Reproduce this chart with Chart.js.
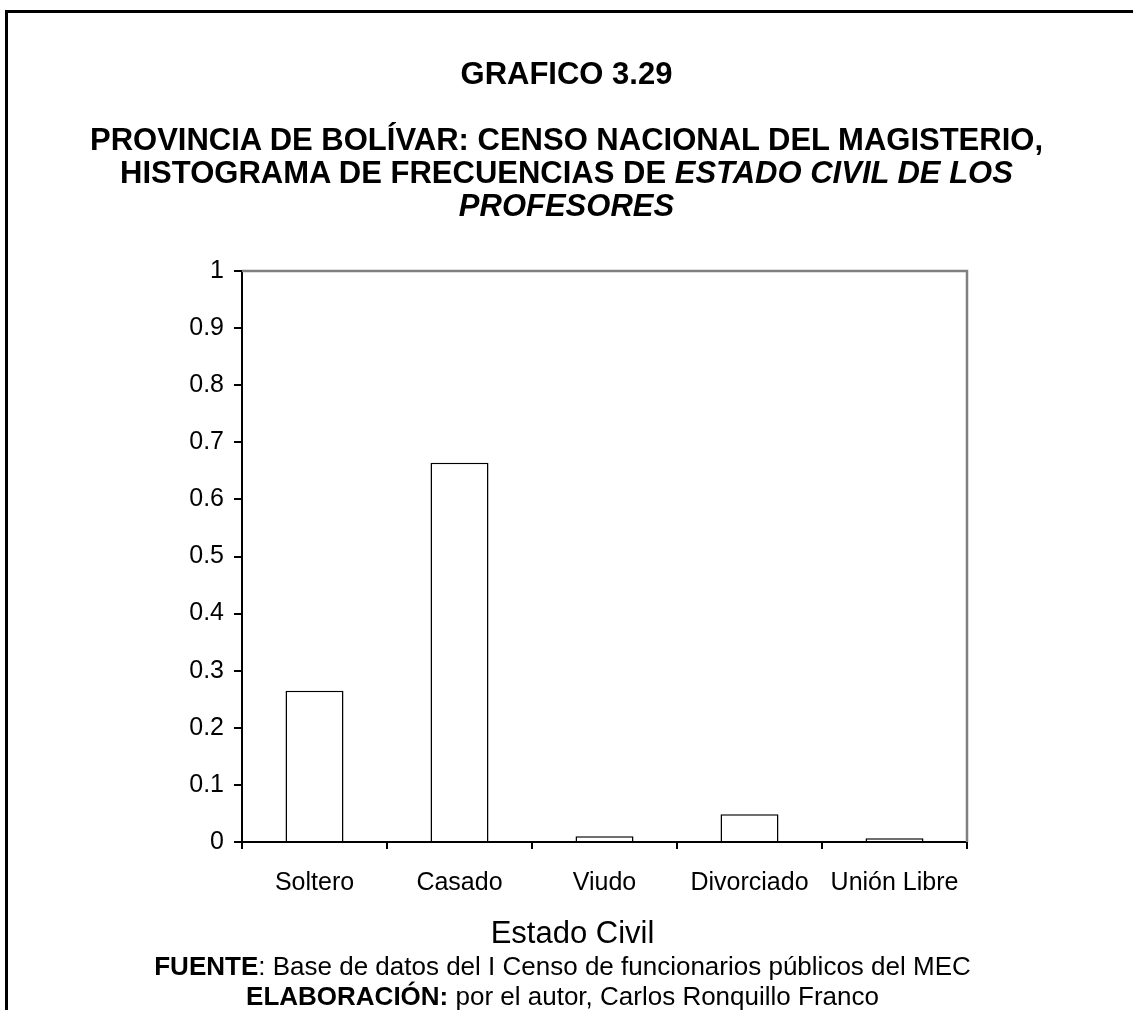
<!DOCTYPE html>
<html>
<head>
<meta charset="utf-8">
<script src="https://cdn.jsdelivr.net/npm/chart.js@4.4.0/dist/chart.umd.min.js"></script>
<style>
  html, body { margin: 0; padding: 0; background: #fff; }
  body { width: 1133px; height: 1010px; position: relative; overflow: hidden;
         font-family: "Liberation Sans", Arial, sans-serif; color: #000; }
  #marco { position: absolute; left: 5px; top: 10px; width: 1200px; height: 1100px;
           border-top: 3px solid #000; border-left: 3px solid #000; }
  #grafico { position: absolute; left: 0; top: 0; }
  .linea { position: absolute; left: 0; width: 1133px; text-align: center; white-space: nowrap; }
  .tit { font-size: 31px; font-weight: bold; line-height: 35px; }
  .pie { font-size: 26px; line-height: 30px; left: -4px; }
  #ejex { font-size: 31px; line-height: 36px; left: 6px; width: 1133px; }
</style>
</head>
<body>
<div id="marco"></div>
<canvas id="grafico" width="1133" height="1010"></canvas>

<div class="linea tit" style="top:56px">GRAFICO 3.29</div>
<div class="linea tit" style="top:122px">PROVINCIA DE BOLÍVAR: CENSO NACIONAL DEL MAGISTERIO,</div>
<div class="linea tit" style="top:155px">HISTOGRAMA DE FRECUENCIAS DE <i>ESTADO CIVIL DE LOS</i></div>
<div class="linea tit" style="top:188px"><i>PROFESORES</i></div>

<div class="linea" id="ejex" style="top:915px"></div>

<div class="linea pie" style="top:951px"><b>FUENTE</b>: Base de datos del I Censo de funcionarios públicos del MEC</div>
<div class="linea pie" style="top:981px"><b>ELABORACIÓN:</b> por el autor, Carlos Ronquillo Franco</div>

<script>
// datos
const categorias = ['Soltero', 'Casado', 'Viudo', 'Divorciado', 'Unión Libre'];
const frecuencias = [0.265, 0.664, 0.010, 0.0485, 0.0065];
const ejeY = { min: 0, max: 1, paso: 0.1 };
const tituloX = 'Estado Civil';

const fuente = '"Liberation Sans", Arial, sans-serif';

document.getElementById('ejex').textContent = tituloX;

/* borde gris arriba y a la derecha del area */
const bordeGris = {
    id: 'bordeGris',
    afterDraw(chart) {
        const a = chart.chartArea;
        const ctx = chart.ctx;
        ctx.save();
        ctx.strokeStyle = '#808080';
        ctx.lineWidth = 2.5;
        ctx.beginPath();
        ctx.moveTo(a.left, a.top);
        ctx.lineTo(a.right, a.top);
        ctx.lineTo(a.right, a.bottom);
        ctx.stroke();
        ctx.restore();
    }
};

const grafico = new Chart(document.getElementById('grafico'), {
    type: 'bar',
    data: {
        labels: categorias,
        datasets: [{
            data: frecuencias,
            backgroundColor: '#ffffff',
            borderColor: '#000000',
            borderWidth: 1.5,
            barPercentage: 0.4,
            categoryPercentage: 1.0
        }]
    },
    options: {
        responsive: false,
        devicePixelRatio: 1,
        animation: false,
        events: [],
        layout: { padding: { top: 271, right: 166, bottom: 60, left: 182 } },
        plugins: { legend: { display: false }, tooltip: { enabled: false } },
        scales: {
            x: {
                afterFit: s => { s.height = 108; },
                grid: { drawOnChartArea: false, offset: true, tickLength: 7, color: '#000', lineWidth: 2 },
                border: { color: '#000', width: 2 },
                ticks: { color: '#000', padding: 19, maxRotation: 0, autoSkip: false,
                         font: { family: fuente, size: 25 } }
            },
            y: {
                min: ejeY.min,
                max: ejeY.max,
                afterFit: s => { s.width = 60; },
                grid: { drawOnChartArea: false, tickLength: 8, color: '#000', lineWidth: 2 },
                border: { color: '#000', width: 2 },
                ticks: {
                    stepSize: ejeY.paso,
                    color: '#000',
                    padding: 10,
                    font: { family: fuente, size: 25 },
                    callback: v => String(Math.round(v * 10) / 10)
                }
            }
        }
    },
    plugins: [bordeGris]
});
</script>
</body>
</html>
